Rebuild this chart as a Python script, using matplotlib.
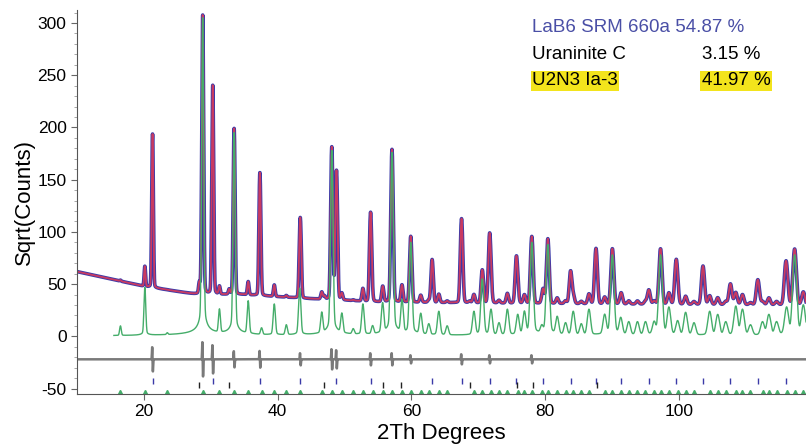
import numpy as np
import matplotlib.pyplot as plt
from matplotlib.ticker import MultipleLocator

plt.rcParams['font.family'] = ['Liberation Sans', 'DejaVu Sans']
plt.rcParams['axes.unicode_minus'] = False

# smooth background of the scan, sqrt(counts)
bg_2th = [10, 15, 20, 25, 28, 35, 45, 55, 70, 90, 119]
bg_val = [62, 55, 48, 43, 40, 40, 36, 33, 32, 31, 30]

# LaB6 reflections: position (2Th) and net height, sqrt(counts)
lab6_pos = [21.3, 30.3, 37.35, 43.4, 48.8, 53.9, 63.1, 67.5, 71.7, 75.7,
            79.7, 83.8, 87.6, 91.4, 95.5, 99.6, 103.6, 107.7, 111.8, 116.0]
lab6_h = [188, 237, 152, 100, 155, 114, 66, 108, 92, 68,
          32, 54, 78, 22, 32, 66, 60, 40, 45, 60]

# uraninite reflections
uran_pos = [28.3, 32.75, 47.0, 55.8, 58.5, 68.7, 75.8, 78.2, 87.8]
uran_h = [30, 20, 15, 15, 12, 10, 10, 10, 8]

# U2N3 reflections (green phase curve)
u2n3_pos = [16.5, 20.15, 23.5, 28.8, 31.3, 33.5, 35.6, 37.6, 39.5, 41.3,
            43.3, 46.6, 48.1, 49.6, 51.3, 52.75, 54.2, 55.7, 57.1, 58.6,
            59.9, 61.4, 62.6, 64.1, 65.35, 69.35, 70.6, 71.9, 73.1, 74.35,
            75.9, 76.9, 78.0, 79.5, 80.4, 81.8, 83.05, 84.2, 85.4, 86.55,
            88.9, 90.05, 91.3, 92.5, 93.8, 95.0, 96.3, 97.25, 98.5, 99.8,
            101.0, 102.25, 104.6, 105.8, 107.0, 108.5, 109.5, 110.7, 112.5, 113.45,
            114.6, 116.1, 117.3, 118.6]
u2n3_h = [10, 47, 3, 305, 26, 195, 34, 8, 31, 11,
          46, 23, 178, 22, 7, 31, 10, 32, 176, 35,
          90, 22, 12, 24, 10, 24, 55, 26, 13, 26,
          21, 24, 90, 10, 88, 19, 13, 24, 12, 26,
          21, 78, 18, 14, 14, 14, 14, 78, 28, 15,
          23, 13, 24, 21, 14, 29, 26, 11, 14, 21,
          14, 28, 78, 30]

# difference curve spikes
diff_pos = [21.3, 28.8, 30.3, 33.5, 37.35, 43.4, 48.1, 48.8, 53.9, 57.1, 59.9, 67.5, 71.7, 78.0]
diff_amp = [12, 17, 14, 8, 8, 6, 10, 9, 6, 6, 4, 5, 4, 4]
diff_offset = -22

phases = ['LaB6 SRM 660a', 'Uraninite C', 'U2N3 Ia-3']
wt_pct = [54.87, 3.15, 41.97]


def peaks(x, pos, h):
    out = np.zeros_like(x)
    for p, a in zip(pos, h):
        w = 0.2 + 0.003 * (p - 10)
        u = (x - p) / (w / 2)
        g = np.exp(-np.log(2) * u**2)
        l = 1 / (1 + u**2)
        out += a**2 * (0.95 * g + 0.05 * l)
    return out


tt = np.arange(10, 119.01, 0.02)
bg = np.interp(tt, bg_2th, bg_val)**2
i_lab6 = peaks(tt, lab6_pos, lab6_h)
i_uran = peaks(tt, uran_pos, uran_h)
i_u2n3 = peaks(tt, u2n3_pos, u2n3_h)

calc = np.sqrt(bg + i_lab6 + i_uran + i_u2n3)

diff = np.full_like(tt, diff_offset, dtype=float)
for p, a in zip(diff_pos, diff_amp):
    u = (tt - p) / 0.05
    diff += -a * u * np.exp(0.5 - u**2 / 2)

fig = plt.figure(figsize=(8.06, 4.48), dpi=100)
ax = fig.add_axes([0.0955, 0.121, 0.9045, 0.857])

ax.plot(tt, calc, color='#3b3aa8', lw=2.6)
ax.plot(tt, calc, color='#ee3a50', lw=1.3, alpha=0.8)
m = tt >= 15.5
ax.plot(tt[m], np.sqrt(i_u2n3[m]), color='#45ad6a', lw=1.0)
ax.plot(tt, diff, color='#7a7a7a', lw=1.8)

ax.plot(lab6_pos, np.full(len(lab6_pos), -43), ls='none', marker='|', ms=4, color='#3b3aa8')
ax.plot(uran_pos, np.full(len(uran_pos), -47), ls='none', marker='|', ms=4, color='#222222')
ax.plot(u2n3_pos, np.full(len(u2n3_pos), -53), ls='none', marker='^', ms=3, color='#45ad6a')

ax.set_xlim(10, 119)
ax.set_ylim(-55, 312.6)
ax.xaxis.set_major_locator(MultipleLocator(20))
ax.yaxis.set_major_locator(MultipleLocator(50))
ax.yaxis.set_minor_locator(MultipleLocator(10))
ax.tick_params(axis='both', labelsize=12.5, color='#666666', length=4)
ax.tick_params(axis='y', which='minor', length=2, color='#999999')
for s in ['top', 'right']:
    ax.spines[s].set_visible(False)
for s in ['left', 'bottom']:
    ax.spines[s].set_color('#555555')

ax.set_xlabel('2Th Degrees', fontsize=16, labelpad=3)
ax.set_ylabel('Sqrt(Counts)', fontsize=16, labelpad=2)

ax.text(0.624, 0.955, f'{phases[0]} {wt_pct[0]:.2f} %', transform=ax.transAxes,
        fontsize=13.5, color='#4a4fa6', va='center')
ax.text(0.624, 0.885, phases[1], transform=ax.transAxes, fontsize=13.5, va='center')
ax.text(0.857, 0.885, f'{wt_pct[1]:.2f} %', transform=ax.transAxes, fontsize=13.5, va='center')
hl = dict(facecolor='#f3e41c', edgecolor='none', pad=1)
ax.text(0.624, 0.815, phases[2], transform=ax.transAxes, fontsize=13.5, va='center', bbox=hl)
ax.text(0.857, 0.815, f'{wt_pct[2]:.2f} %', transform=ax.transAxes, fontsize=13.5, va='center', bbox=hl)

fig.savefig('out.png', dpi=100)
